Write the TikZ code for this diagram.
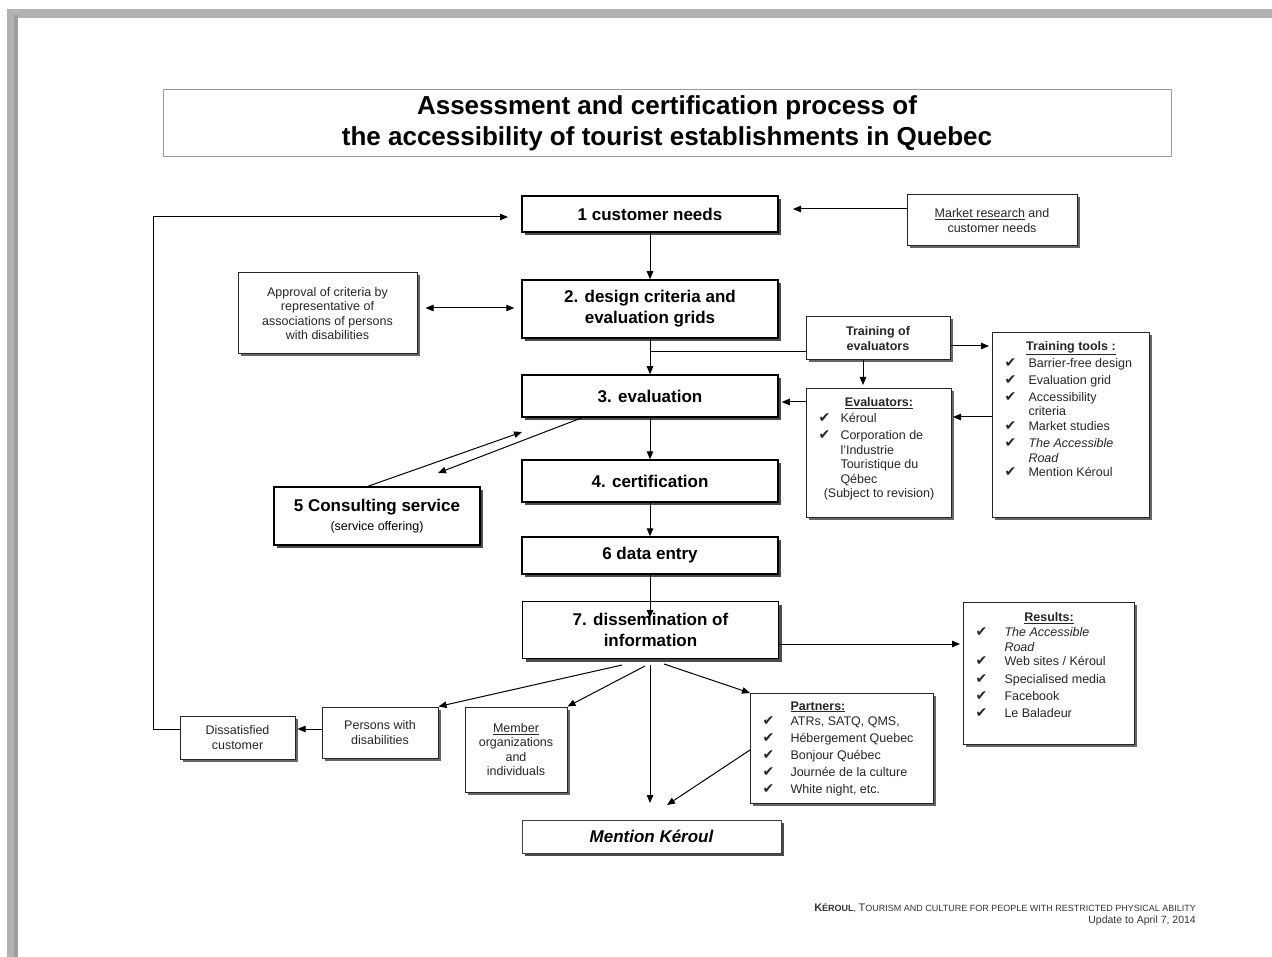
\documentclass[tikz,border=0pt]{standalone}
\usepackage{fontspec}
\usepackage{array}
\setmainfont{Liberation Sans}
\newfontfamily\djv{DejaVu Sans}
\usetikzlibrary{arrows.meta,shadows}
\newcolumntype{L}[1]{>{\raggedright\arraybackslash}p{#1}}
\newcommand{\ck}{{\djv\fontsize{14}{14}\selectfont ✔}}
\tikzset{
 mainbox/.style={draw=black, line width=1.5pt, fill=white, inner sep=0pt, minimum width=256pt, align=center,
   font=\fontsize{17}{21}\selectfont\bfseries,
   drop shadow={shadow xshift=3pt,shadow yshift=-3pt,fill=black!70,opacity=1}},
 smallbox/.style={draw=black!85, line width=1pt, fill=white, inner sep=0pt, align=center,
   font=\fontsize{12.5}{14.5}\selectfont, text=black!85,
   drop shadow={shadow xshift=2.5pt,shadow yshift=-2.5pt,fill=black!60,opacity=1}},
 listbox/.style={smallbox, align=left},
 arr/.style={draw=black, line width=1pt, -{Triangle[length=8pt,width=6.5pt]}},
 darr/.style={draw=black, line width=1pt, {Triangle[length=8pt,width=6.5pt]}-{Triangle[length=8pt,width=6.5pt]}},
 link/.style={draw=black, line width=1pt},
}
\begin{document}
\begin{tikzpicture}[x=1pt,y=-1pt]
\useasboundingbox (0,0) rectangle (1272,957);
% page frame
\fill[black!30] (7,9) rectangle (1272,18);
\fill[black!30] (7,9) rectangle (18,957);
\fill[black!38] (14,15) rectangle (18,957);

% title
\node[draw=black!40, line width=1pt, minimum width=1008pt, minimum height=67pt, inner sep=0pt, align=center,
  font=\fontsize{26}{31}\selectfont\bfseries] (title) at (667,123.5)
  {Assessment and certification process of\\the accessibility of tourist establishments in Quebec};

% main column
\node[mainbox, minimum height=36pt] (b1) at (650,214) {1 customer needs};
\node[mainbox, minimum height=58pt] (b2) at (650,309) {2. design criteria and\\evaluation grids};
\node[mainbox, minimum height=42pt] (b3) at (650,396) {3. evaluation};
\node[mainbox, minimum height=42pt] (b4) at (650,481) {4. certification};
\node[mainbox, minimum height=37pt] (b6) at (650,555.5) {6 data entry};
\node[mainbox, minimum height=57pt] (b7) at (650.5,630) {7. dissemination of\\information};
\node[mainbox, line width=1pt, draw=black!75, minimum width=259pt, minimum height=33pt,
  font=\fontsize{17}{21}\selectfont\bfseries\itshape] (mk) at (651.5,836.5) {Mention Kéroul};
\node[mainbox, minimum width=206pt, minimum height=58pt] (cons) at (377,516)
  {5 Consulting service\\[-2pt]{\fontsize{12.5}{14}\selectfont\mdseries (service offering)}};

% side boxes
\node[smallbox, minimum width=170pt, minimum height=51pt] (mkt) at (992,220.5) {\underline{Market research} and\\customer needs};
\node[smallbox, minimum width=179pt, minimum height=81pt] (appr) at (327.5,313.5)
  {Approval of criteria by\\representative of\\associations of persons\\with disabilities};
\node[smallbox, minimum width=144pt, minimum height=43pt, font=\fontsize{12.5}{15}\selectfont\bfseries] (train) at (878,338.5)
  {Training of\\evaluators};
\node[smallbox, minimum width=115pt, minimum height=43pt] (dis) at (237.5,737.5) {Dissatisfied\\customer};
\node[smallbox, minimum width=116pt, minimum height=51pt] (pers) at (380,732.5) {Persons with\\disabilities};
\node[smallbox, minimum width=102pt, minimum height=85pt] (memb) at (516,749.5) {\underline{Member}\\organizations\\and\\individuals};

% list boxes
\node[listbox, anchor=north west] (eval) at (806,388) {\begin{minipage}[c][129pt][t]{145pt}
\vspace*{9pt}\centering\textbf{\underline{Evaluators:}}\par\vspace{3pt}
\raggedright
\begin{tabular}{@{\hspace{12pt}}L{22pt}@{}L{110pt}@{}}
\ck & Kéroul\\[2.5pt]
\ck & Corporation de\newline l'Industrie\newline Touristique du\newline Qébec
\end{tabular}\par
\centering (Subject to revision)\par
\end{minipage}};

\node[listbox, anchor=north west] (tools) at (992,332) {\begin{minipage}[c][185pt][t]{157pt}
\vspace*{9pt}\centering\textbf{\underline{Training tools :}}\par\vspace{1pt}
\raggedright
\begin{tabular}{@{\hspace{12pt}}L{24pt}@{}L{118pt}@{}}
\ck & Barrier-free design\\[2.5pt]
\ck & Evaluation grid\\[2.5pt]
\ck & Accessibility\newline criteria\\[3pt]
\ck & Market studies\\[3pt]
\ck & \textit{The Accessible\newline Road}\\[3.5pt]
\ck & Mention Kéroul
\end{tabular}\par
\end{minipage}};

\node[listbox, anchor=north west] (res) at (963,602) {\begin{minipage}[c][142pt][t]{171pt}
\vspace*{10pt}\centering\textbf{\underline{Results:}}\par\vspace{2pt}
\raggedright
\begin{tabular}{@{\hspace{12pt}}L{29pt}@{}L{125pt}@{}}
\ck & \textit{The Accessible\newline Road}\\[3.5pt]
\ck & Web sites / Kéroul\\[3pt]
\ck & Specialised media\\[2.5pt]
\ck & Facebook\\[2.5pt]
\ck & Le Baladeur
\end{tabular}\par
\end{minipage}};

\node[listbox, anchor=north west] (part) at (750,693) {\begin{minipage}[c][110pt][t]{183pt}
\vspace*{8pt}\hspace*{40pt}\textbf{\underline{Partners:}}\par\vspace{2.5pt}
\raggedright
\begin{tabular}{@{\hspace{12pt}}L{28pt}@{}L{140pt}@{}}
\ck & ATRs, SATQ, QMS,\\[2.5pt]
\ck & Hébergement Quebec\\[2.5pt]
\ck & Bonjour Québec\\[2.5pt]
\ck & Journée de la culture\\[2.5pt]
\ck & White night, etc.
\end{tabular}\par
\end{minipage}};

% footer
\node[anchor=north east, align=right, inner sep=0pt, text=black!80, font=\fontsize{9}{12}\selectfont] (foot) at (1196,903)
  {{\fontsize{11}{12}\selectfont\bfseries K}{\bfseries ÉROUL}, {\fontsize{11}{12}\selectfont T}OURISM AND CULTURE FOR PEOPLE WITH RESTRICTED PHYSICAL ABILITY\\
   {\fontsize{10.5}{12}\selectfont Update to April 7, 2014}};

% helper coordinates
\coordinate (mkin) at (793,209);
\coordinate (lp) at (153,729);
\coordinate (loopend) at (508,217);
\coordinate (apy) at (0,308);
\coordinate (tj) at (650,352);
\coordinate (ty) at (0,346);
\coordinate (ev) at (863,385);
\coordinate (e3) at (0,402);
\coordinate (te) at (0,417);
\coordinate (c1) at (522,432);
\coordinate (c2) at (438,473);
\coordinate (b7in) at (650,618);
\coordinate (r7) at (960,644);
\coordinate (f1) at (622,665);
\coordinate (f2) at (645,666);
\coordinate (f3) at (650,665);
\coordinate (f4) at (664,664);
\coordinate (m1) at (650,803);
\coordinate (m2) at (667,805);
\coordinate (p1) at (750,750);

% connectors
\draw[arr] (b1) -- (b2);
\draw[arr] (b2) -- (b3);
\draw[arr] (b3) -- (b4);
\draw[arr] (b4) -- (b6);
\draw[arr] (b6.south) -- (b7in);
\draw[arr] (mkt.west|-mkin) -- (mkin);
\draw[arr] (dis.west|-lp) -- (lp) |- (loopend);
\draw[arr] (pers.west|-lp) -- ([xshift=2pt]dis.east|-lp);
\draw[darr] ([xshift=8pt]appr.east|-apy) -- ([xshift=-7pt]b2.west|-apy);
\draw[link] (train.west|-tj) -- (tj);
\draw[arr] (train.east|-ty) -- ([xshift=-3pt]tools.west|-ty);
\draw[arr] (train.south-|ev) -- (ev);
\draw[arr] (eval.west|-e3) -- ([xshift=3pt]b3.east|-e3);
\draw[arr] (tools.west|-te) -- ([xshift=1pt]eval.east|-te);
\draw[arr] ([xshift=-9pt]cons.north) -- (c1);
\draw[arr] ([xshift=-68pt]b3.south) -- (c2);
\draw[arr] (b7.east|-r7) -- (r7);
\draw[arr] (f1) -- (pers.north east);
\draw[arr] (f2) -- (memb.north east);
\draw[arr] (f3) -- (m1);
\draw[arr] (f4) -- (part.north west);
\draw[arr] (p1) -- (m2);
\end{tikzpicture}
\end{document}
